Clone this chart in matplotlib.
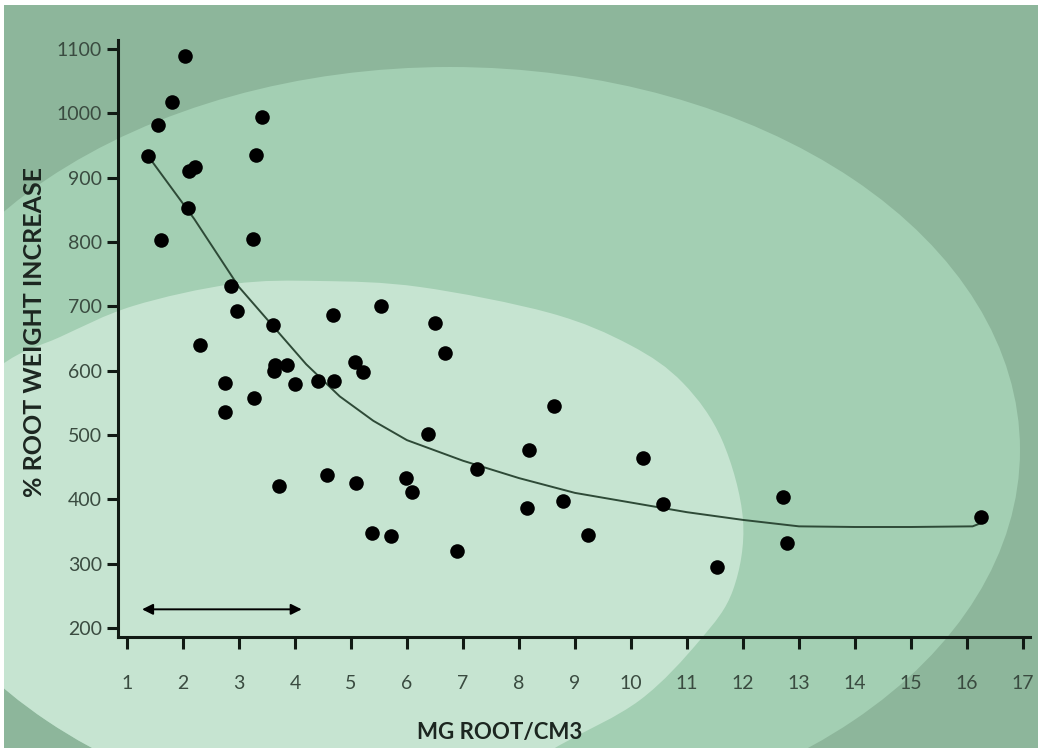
import numpy as np
import matplotlib.pyplot as plt
from matplotlib.patches import Ellipse, Rectangle, PathPatch
from matplotlib.path import Path

# data
mg_root = [1.37, 1.55, 1.80, 2.04, 1.61, 2.09, 2.11, 2.21, 2.30, 2.86,
           2.96, 2.75, 2.75, 3.27, 3.25, 3.30, 3.41, 3.61, 3.65, 3.86,
           3.62, 4.00, 4.41, 4.70, 4.68, 5.54, 5.07, 5.21, 3.72, 4.57,
           5.09, 5.37, 5.71, 5.98, 6.09, 6.38, 6.50, 6.68, 6.89, 7.25,
           8.14, 8.18, 8.63, 8.79, 9.23, 10.21, 10.57, 11.54, 12.71, 12.78,
           16.25]
root_increase = [934, 982, 1018, 1089, 803, 853, 910, 917, 640, 732,
                 693, 581, 536, 557, 805, 935, 994, 671, 609, 609,
                 600, 580, 584, 584, 687, 700, 613, 598, 421, 438,
                 425, 348, 343, 433, 411, 502, 674, 627, 320, 447,
                 386, 477, 545, 397, 345, 464, 393, 295, 404, 332,
                 373]

fit_x = [1.45, 2.2, 3.0, 3.6, 4.2, 4.8, 5.4, 6.0, 7.0, 8.0, 9.0,
         10.0, 11.0, 12.0, 13.0, 14.0, 15.0, 16.1, 16.25]
fit_y = [925, 836, 730, 670, 610, 560, 522, 492, 460, 433, 410,
         395, 380, 368, 358, 357, 357, 358, 363]

range_x = [1.27, 4.12]
range_y = 229

xticks = list(range(1, 18))
yticks = list(range(200, 1200, 100))

outer_c = '#8db69b'
mid_c = '#a3cfb3'
inner_c = '#c6e4d1'


def smooth_closed(pts):
    pts = np.asarray(pts, float)
    n = len(pts)
    verts = [pts[0]]
    codes = [Path.MOVETO]
    for i in range(n):
        p0, p1, p2, p3 = pts[i - 1], pts[i], pts[(i + 1) % n], pts[(i + 2) % n]
        verts += [p1 + (p2 - p0) / 6, p2 - (p3 - p1) / 6, p2]
        codes += [Path.CURVE4] * 3
    return Path(verts, codes)


fig = plt.figure(figsize=(10.38, 7.48), dpi=100)
fig.patch.set_facecolor('white')

# background shapes, in pixel units
bg = fig.add_axes([4 / 1038, 0, 1034 / 1038, 743 / 748])
bg.set_xlim(4, 1038)
bg.set_ylim(748, 5)
bg.axis('off')
bg.add_patch(Rectangle((0, 0), 1100, 800, color=outer_c, lw=0))
mid = Ellipse((450, 450), 1140, 766, color=mid_c, lw=0)
bg.add_patch(mid)
inner_pts = [(-80, 440), (0, 366), (60, 337), (133, 306), (233, 284), (320, 281),
             (420, 287), (550, 313), (630, 345), (683, 383), (722, 440), (743, 520),
             (733, 590), (700, 640), (640, 700), (560, 745), (480, 790), (300, 830),
             (0, 830), (-100, 700)]
inner = PathPatch(smooth_closed(inner_pts), color=inner_c, lw=0)
bg.add_patch(inner)
inner.set_clip_path(mid)

ax = fig.add_axes([118 / 1038, 1 - 637 / 748, (1030 - 118) / 1038, (637 - 40) / 748])
ax.patch.set_alpha(0)
ax.set_xlim(0.84, 17.125)
ax.set_ylim(186, 1114)
for s in ['top', 'right']:
    ax.spines[s].set_visible(False)
for s in ['left', 'bottom']:
    ax.spines[s].set_linewidth(2.2)
    ax.spines[s].set_color('#111a14')

ax.plot(fit_x, fit_y, color='#2e4a37', lw=1.4, zorder=2)
ax.scatter(mg_root, root_increase, s=110, color='black', zorder=3, linewidths=0)
ax.annotate('', xy=(range_x[1], range_y), xytext=(range_x[0], range_y),
            arrowprops=dict(arrowstyle='<|-|>', color='black', lw=1.4,
                            mutation_scale=16, shrinkA=0, shrinkB=0))

ax.set_xticks(xticks)
ax.set_yticks(yticks)
ax.tick_params(axis='x', direction='out', length=8.5, width=2.2, pad=19,
               color='#111a14', labelcolor='#3a4b40', labelsize=14)
ax.tick_params(axis='y', direction='out', length=8, width=2.2, pad=3.5,
               color='#111a14', labelcolor='#3a4b40', labelsize=14)
for lab in ax.get_xticklabels() + ax.get_yticklabels():
    lab.set_family('Lato')

fig.text(500 / 1038, 1 - 733 / 748, 'MG ROOT/CM3', ha='center', va='center',
         fontsize=16, family='Lato', fontweight='bold', color='#1c2620')
fig.text(35 / 1038, 1 - 332 / 748, '% ROOT WEIGHT INCREASE', ha='center', va='center',
         rotation=90, fontsize=18, family='Lato', fontweight='bold', color='#1c2620')

fig.savefig('out.png', dpi=100)
